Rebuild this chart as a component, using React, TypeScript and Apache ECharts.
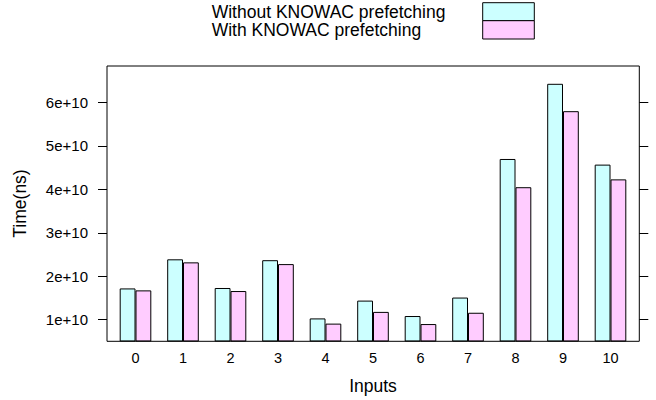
import React, { useEffect, useRef } from "react";
import * as echarts from "echarts";

const categories = ["0", "1", "2", "3", "4", "5", "6", "7", "8", "9", "10"];
const seriesNames = ["Without KNOWAC prefetching", "With KNOWAC prefetching"];
const withoutPrefetch = [1.72e10, 2.39e10, 1.73e10, 2.37e10, 1.03e10, 1.44e10, 1.085e10, 1.51e10, 4.7e10, 6.43e10, 4.57e10];
const withPrefetch = [1.675e10, 2.32e10, 1.66e10, 2.28e10, 0.91e10, 1.18e10, 0.9e10, 1.16e10, 4.05e10, 5.8e10, 4.23e10];
const yTicks = [1e10, 2e10, 3e10, 4e10, 5e10, 6e10];
const yMin = 5.1e9;
const yMax = 6.84e10;
const colors = ["#CCFFFF", "#FFCCFF"];

const FONT = "'Liberation Sans', Arial, Helvetica, sans-serif";

export default function App() {
  const ref = useRef<HTMLDivElement>(null);
  useEffect(() => {
    if (!ref.current) return;
    const chart = echarts.init(ref.current, null, { renderer: "svg" });
    const fmt = (v: number) => `${Math.round(v / 1e10)}e+10`;
    const frameL = 107, frameR = 639.3, frameT = 66, frameB = 341.3;
    const option: any = {
      animation: false,
      backgroundColor: "#ffffff",
      textStyle: { fontFamily: FONT },
      grid: { left: 111.75, right: 656 - 634.25, top: frameT, bottom: 400 - frameB },
      xAxis: {
        type: "category",
        data: categories,
        axisLine: { show: false },
        axisTick: { show: false },
        axisLabel: { color: "#000", fontSize: 14.5, margin: 9, fontFamily: FONT },
        splitLine: { show: false },
        name: "Inputs",
        nameLocation: "middle",
        nameGap: 36,
        nameTextStyle: { color: "#000", fontSize: 17.5, fontFamily: FONT },
      },
      yAxis: [
        {
          type: "value",
          min: yMin,
          max: yMax,
          position: "left",
          offset: 4.75,
          axisLine: { show: false },
          axisTick: { show: true, length: 9, customValues: yTicks, lineStyle: { color: "#000" } },
          axisLabel: { color: "#000", fontSize: 15, margin: 19, customValues: yTicks, formatter: fmt, fontFamily: FONT },
          splitLine: { show: false },
          name: "Time(ns)",
          nameLocation: "middle",
          nameRotate: 90,
          nameGap: 78,
          nameTextStyle: { color: "#000", fontSize: 17.5, fontFamily: FONT },
        },
        {
          type: "value",
          min: yMin,
          max: yMax,
          position: "right",
          offset: frameR - 634.25,
          axisLine: { show: false },
          axisTick: { show: true, length: 9, customValues: yTicks, lineStyle: { color: "#000" } },
          axisLabel: { show: false },
          splitLine: { show: false },
        },
      ],
      series: [
        {
          name: seriesNames[0],
          type: "bar",
          data: withoutPrefetch,
          barWidth: 15.8,
          barGap: "0%",
          itemStyle: { color: colors[0], borderColor: "#000", borderWidth: 1 },
        },
        {
          name: seriesNames[1],
          type: "bar",
          data: withPrefetch,
          barWidth: 15.8,
          barGap: "0%",
          itemStyle: { color: colors[1], borderColor: "#000", borderWidth: 1 },
        },
      ],
      graphic: [
        {
          type: "rect",
          z: 100,
          silent: true,
          shape: { x: frameL, y: frameT, width: frameR - frameL, height: frameB - frameT },
          style: { fill: "none", stroke: "#000", lineWidth: 1 },
        },
        {
          type: "text",
          x: 211.7,
          y: 11.6,
          style: { text: seriesNames[0], fill: "#000", font: `17.5px ${FONT}`, lineHeight: 17.5, textVerticalAlign: "middle", textAlign: "left" },
        },
        {
          type: "text",
          x: 211.7,
          y: 29.6,
          style: { text: seriesNames[1], fill: "#000", font: `17.5px ${FONT}`, lineHeight: 17.5, textVerticalAlign: "middle", textAlign: "left" },
        },
        {
          type: "rect",
          shape: { x: 482.7, y: 2.7, width: 51.6, height: 18 },
          style: { fill: colors[0], stroke: "#000", lineWidth: 1 },
        },
        {
          type: "rect",
          shape: { x: 482.7, y: 20.7, width: 51.6, height: 18.3 },
          style: { fill: colors[1], stroke: "#000", lineWidth: 1 },
        },
      ],
    };
    chart.setOption(option);
    return () => chart.dispose();
  }, []);
  return <div ref={ref} style={{ position: "absolute", left: 0, top: 0, width: 656, height: 400 }} />;
}
